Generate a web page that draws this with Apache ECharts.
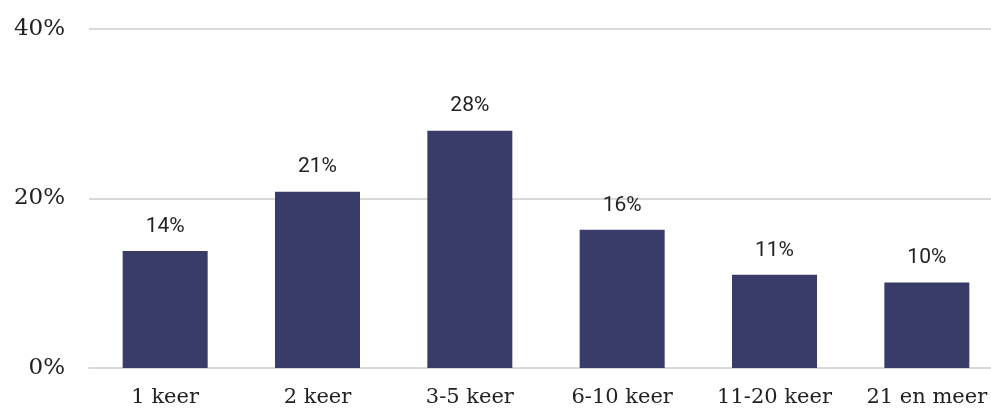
<!DOCTYPE html>
<html>
<head>
<meta charset="utf-8">
<script src="https://cdn.jsdelivr.net/npm/echarts@6/dist/echarts.min.js"></script>
<style>
  html, body { margin: 0; padding: 0; background: #fff; }
  #chart { width: 991px; height: 410px; }
</style>
</head>
<body>
<div id="chart"></div>
<script>
const categories = ['1 keer', '2 keer', '3-5 keer', '6-10 keer', '11-20 keer', '21 en meer']
const shares = [13.8, 20.8, 28, 16.3, 11, 10.1]

let chart = echarts.init(document.getElementById('chart'))
chart.setOption({
  animation: false,
  // the last category band runs past the right edge of the picture
  grid: { left: 89, right: -12, top: 29, bottom: 42, containLabel: false, outerBoundsMode: 'none' },
  xAxis: {
    type: 'category',
    data: categories,
    axisTick: { show: false },
    axisLine: { lineStyle: { color: '#d9d9d9', width: 2 } },
    axisLabel: {
      interval: 0,
      margin: 19,
      color: '#222',
      fontFamily: 'DejaVu Serif',
      fontSize: 21,
      hideOverlap: false
    }
  },
  yAxis: {
    type: 'value',
    min: 0,
    max: 40,
    interval: 20,
    axisLine: { show: false },
    axisTick: { show: false },
    splitLine: { lineStyle: { color: '#d9d9d9', width: 2 } },
    axisLabel: {
      margin: 24,
      color: '#222',
      fontFamily: 'DejaVu Serif',
      fontSize: 23,
      formatter: '{value}%'
    }
  },
  series: [
    {
      type: 'bar',
      data: shares,
      barWidth: '55.8%',
      itemStyle: { color: '#393c69' },
      label: {
        show: true,
        position: 'top',
        distance: 14,
        color: '#222',
        fontFamily: 'Roboto',
        fontSize: 21,
        formatter: p => Math.round(p.value) + '%'
      }
    }
  ]
})
</script>
</body>
</html>
